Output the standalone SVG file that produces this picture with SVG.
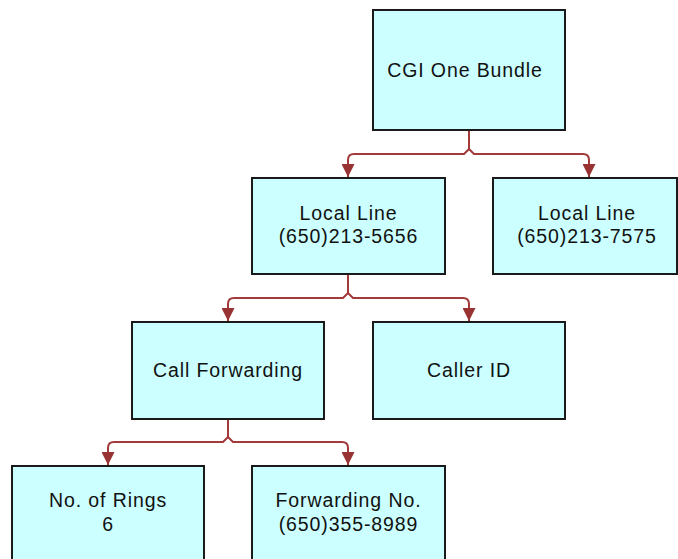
<svg xmlns="http://www.w3.org/2000/svg" width="678" height="559" viewBox="0 0 678 559">
<style>
.box{fill:#ccffff;stroke:#1a1a1a;stroke-width:2}
.lbl{font-family:"Liberation Sans",Arial,sans-serif;font-size:19.5px;letter-spacing:0.9px;fill:#111;text-anchor:middle}
.conn{fill:none;stroke:#a33a3a;stroke-width:2}
</style>
<defs>
<marker id="arr" markerUnits="userSpaceOnUse" markerWidth="13" markerHeight="13" viewBox="0 0 13 13" refX="13" refY="6.5" orient="auto">
<path d="M0,0 L13,6.5 L0,13 z" fill="#993333"/>
</marker>
</defs>
<rect width="678" height="559" fill="#ffffff"/>
<g id="connectors">
<path class="conn" marker-end="url(#arr)" d="M469,130 V149 L464,154 H354 Q348,154 348,160 V177"/>
<path class="conn" marker-end="url(#arr)" d="M469,149 L474,154 H583 Q589,154 589,160 V177"/>
<path class="conn" marker-end="url(#arr)" d="M348,274 V293 L343,298 H234 Q228,298 228,304 V321"/>
<path class="conn" marker-end="url(#arr)" d="M348,293 L353,298 H463 Q469,298 469,304 V321"/>
<path class="conn" marker-end="url(#arr)" d="M228,419 V437 L223,442 H114 Q108,442 108,448 V465"/>
<path class="conn" marker-end="url(#arr)" d="M228,437 L233,442 H342 Q348,442 348,448 V465"/>
</g>
<g id="cgi"><rect class="box" x="373" y="10" width="192" height="120"/><text class="lbl" x="465" y="77">CGI One Bundle</text></g>
<g id="local1"><rect class="box" x="252" y="178" width="193" height="96"/><text class="lbl" x="348.5" y="220">Local Line</text><text class="lbl" x="348.5" y="243">(650)213-5656</text></g>
<g id="local2"><rect class="box" x="493" y="178" width="184" height="96"/><text class="lbl" x="587" y="220">Local Line</text><text class="lbl" x="587" y="243">(650)213-7575</text></g>
<g id="callfwd"><rect class="box" x="132" y="322" width="192" height="97"/><text class="lbl" x="228" y="377">Call Forwarding</text></g>
<g id="callerid"><rect class="box" x="373" y="322" width="192" height="97"/><text class="lbl" x="469" y="377">Caller ID</text></g>
<g id="rings"><rect class="box" x="12" y="466" width="192" height="100"/><text class="lbl" x="108" y="507">No. of Rings</text><text class="lbl" x="108" y="531">6</text></g>
<g id="fwdno"><rect class="box" x="252" y="466" width="193" height="100"/><text class="lbl" x="348.5" y="507">Forwarding No.</text><text class="lbl" x="348.5" y="531">(650)355-8989</text></g>
</svg>
